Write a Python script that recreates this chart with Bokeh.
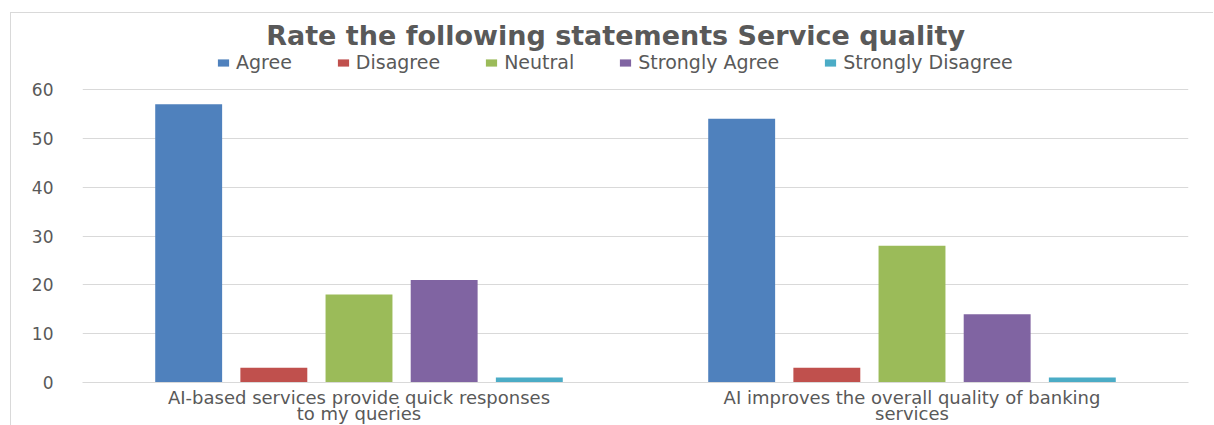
from bokeh.plotting import figure
from bokeh.models import ColumnDataSource, FactorRange, Range1d, FixedTicker, Legend, LegendItem, Label
from bokeh.transform import dodge
from bokeh.embed import file_html
from bokeh.resources import INLINE

categories = ["AI-based services provide quick responses\nto my queries",
              "AI improves the overall quality of banking\nservices"]
series = ["Agree", "Disagree", "Neutral", "Strongly Agree", "Strongly Disagree"]
agree = [57, 54]
disagree = [3, 3]
neutral = [18, 28]
strongly_agree = [21, 14]
strongly_disagree = [1, 1]
y_ticks = [0, 10, 20, 30, 40, 50, 60]
title_text = "Rate the following statements Service quality"

colors = ["#4f81bd", "#c0504d", "#9bbb59", "#8064a2", "#4bacc6"]
keys = ["agree", "disagree", "neutral", "strongly_agree", "strongly_disagree"]
source = ColumnDataSource(dict(cat=categories, agree=agree, disagree=disagree, neutral=neutral,
                               strongly_agree=strongly_agree, strongly_disagree=strongly_disagree))

FONT = "DejaVu Sans"
GRAY = "#595959"

p = figure(frame_width=1106, frame_height=368, x_range=FactorRange(*categories, range_padding=0),
           y_range=Range1d(0, 75.36), output_backend="svg", toolbar_location=None,
           min_border_left=71, min_border_right=25, min_border_top=1, min_border_bottom=5,
           margin=(12, 0, 0, 10),
           styles={"border-left": "1px solid #d9d9d9", "border-top": "1px solid #d9d9d9"})
p.outline_line_color = None
p.xgrid.grid_line_color = None
p.ygrid.grid_line_color = "#d9d9d9"
p.yaxis.ticker = FixedTicker(ticks=y_ticks)
p.yaxis.axis_line_color = None
p.yaxis.major_tick_line_color = None
p.yaxis.minor_tick_line_color = None
p.yaxis.major_label_text_font = FONT
p.yaxis.major_label_text_font_size = "17px"
p.yaxis.major_label_text_color = GRAY
p.yaxis.major_label_standoff = 23
p.xaxis.axis_line_color = "#d9d9d9"
p.xaxis.major_tick_line_color = None
p.xaxis.major_label_text_font = FONT
p.xaxis.major_label_text_font_size = "18px"
p.xaxis.major_label_text_color = GRAY
p.xaxis.major_label_standoff = -2
p.xaxis.major_label_text_line_height = 0.8

offsets = [-0.308, -0.154, 0.0, 0.154, 0.308]
items = []
for name, key, col, off in zip(series, keys, colors, offsets):
    r = p.vbar(x=dodge("cat", off, range=p.x_range), top=key, width=0.121, source=source,
               fill_color=col, line_color=None)
    items.append(LegendItem(label=name, renderers=[r]))

legend = Legend(items=items, orientation="horizontal", location=(134, 309),
                glyph_width=14, glyph_height=9, label_standoff=6, spacing=44,
                padding=0, margin=0, border_line_color=None, background_fill_alpha=0,
                label_text_font=FONT, label_text_font_size="19px", label_text_color=GRAY,
                label_height=16)
p.add_layout(legend, "center")

title = Label(x=0.964, y=71.0, text=title_text, text_align="center", text_baseline="middle",
              text_font=FONT, text_font_size="27px", text_font_style="bold", text_color=GRAY)
p.add_layout(title)

open("out.html", "w").write(file_html(p, INLINE))
